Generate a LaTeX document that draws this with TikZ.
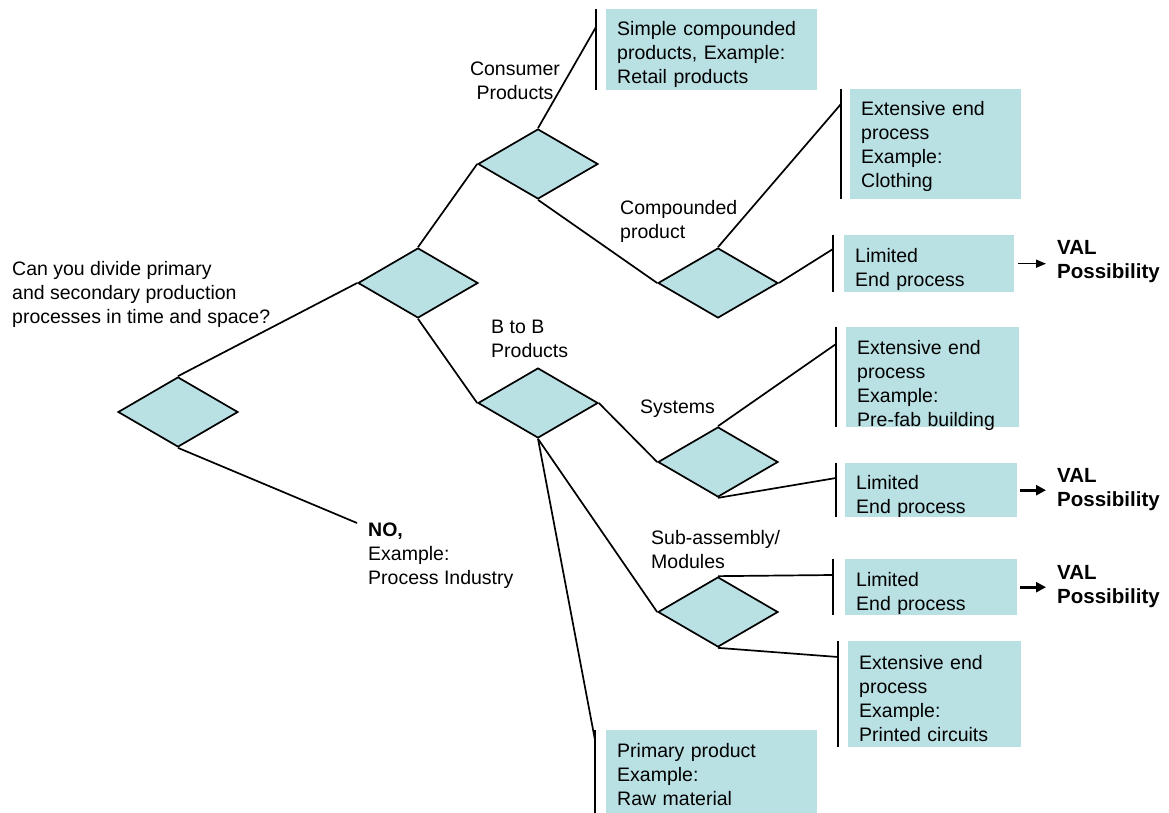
\documentclass[tikz,border=0pt]{standalone}
\usepackage{fontspec}
\setmainfont{Liberation Sans}
\usetikzlibrary{shapes.geometric,arrows.meta,calc}
\definecolor{boxfill}{RGB}{185,224,227}

\begin{document}
\begin{tikzpicture}[x=1pt,y=-1pt,
  every node/.style={font=\fontsize{19.5}{24}\selectfont},
  decision/.style={diamond, draw=black, line width=1.7pt, fill=boxfill,
    minimum width=120pt, minimum height=70pt, inner sep=0pt},
  infobox/.style={fill=boxfill, anchor=north west, inner xsep=11pt,
    inner ysep=0pt, align=left},
  % lowers the text block inside a box: first line height, remaining depth
  txt/.style 2 args={text height=#1pt, text depth=#2pt},
  lbl/.style={anchor=north west, inner sep=0pt, align=left},
  valtext/.style={anchor=west, inner sep=0pt, align=left,
    font=\fontsize{20.5}{24}\selectfont\bfseries},
  conn/.style={line width=1.7pt},
  sidebar/.style={line width=2pt},
  thinarrow/.style={line width=1.4pt, -{Triangle[length=10pt,width=8pt]}},
  thickarrow/.style={line width=3pt, -{Triangle[length=10pt,width=10pt]}},
]
\useasboundingbox (0,0) rectangle (1169,813);

% decision diamonds
\node[decision] (d0) at (178,412) {};
\node[decision] (d1) at (418,283) {};
\node[decision] (d2) at (538,164) {};
\node[decision] (d3) at (538,403) {};
\node[decision] (d4) at (718,283) {};
\node[decision] (d5) at (718,462) {};
\node[decision] (d6) at (718,612) {};

% outcome boxes
\node[infobox, txt={19.2}{47}, text width=189pt, minimum height=81pt]  (b1) at (606,9)   {Simple compounded\\products, Example:\\Retail products};
\node[infobox, txt={16.2}{74}, text width=149pt, minimum height=110pt] (b2) at (850,89)  {Extensive end\\process\\Example:\\Clothing};
\node[infobox, txt={20.2}{22}, text width=148pt, minimum height=57pt]  (b3) at (844,235) {Limited\\End process};
\node[infobox, txt={22.2}{68}, text width=151pt, minimum height=100pt] (b4) at (846,327) {Extensive end\\process\\Example:\\Pre-fab building};
\node[infobox, txt={20.2}{22}, text width=150pt, minimum height=54pt]  (b5) at (845,463) {Limited\\End process};
\node[infobox, txt={20.2}{22}, text width=150pt, minimum height=56pt]  (b6) at (845,559) {Limited\\End process};
\node[infobox, txt={18.2}{68}, text width=151pt, minimum height=106pt] (b7) at (848,641) {Extensive end\\process\\Example:\\Printed circuits};
\node[infobox, txt={17.2}{45}, text width=189pt, minimum height=83pt]  (b8) at (606,730) {Primary product\\Example:\\Raw material};

% branch labels
\node[lbl] (q)    at (12,261)  {Can you divide primary\\and secondary production\\processes in time and space?};
\node[lbl] (no)   at (368,523) {\textbf{NO,}\\Example:\\Process Industry};
\node[anchor=north, inner sep=0pt, align=center] (cons) at (515,62) {Consumer\\Products};
\node[lbl] (comp) at (620,200) {Compounded\\product};
\node[lbl] (btob) at (491,320) {B to B\\Products};
\node[lbl] (sys)  at (640,400) {Systems};
\node[lbl] (sub)  at (651,530) {Sub-assembly/\\Modules};

% VAL outcomes
\node[valtext] (v1) at (1057,262) {VAL\\Possibility};
\node[valtext] (v2) at (1057,490) {VAL\\Possibility};
\node[valtext] (v3) at (1057,587) {VAL\\Possibility};

% vertical bars in front of the boxes
\foreach \b/\s in {b1/10,b2/9,b3/11,b4/10,b5/9,b6/12,b7/10,b8/11}
  \draw[sidebar] ([xshift=-\s pt]\b.north west) -- ([xshift=-\s pt]\b.south west);

% tree connectors
\draw[conn] (d0.north) -- (d1.west);
\draw[conn] (d0.south) -- ([xshift=-11pt]no.north west);
\draw[conn] (d1.north) -- (d2.west);
\draw[conn] (d1.south) -- (d3.west);
\draw[conn] (d2.north) -- ($(b1.north west)+(-10,18)$);
\draw[conn] (d2.south) -- (d4.west);
\draw[conn] (d4.north) -- ($(b2.north west)+(-9,15)$);
\draw[conn] (d4.east)  -- ($(b3.north west)+(-11,14)$);
\draw[conn] (d3.east)  -- (d5.west);
\draw[conn] (d3.south) -- (d6.west);
\draw[conn] (d3.south) -- ($(b8.north west)+(-11,10)$);
\draw[conn] (d5.north) -- ($(b4.north west)+(-10,17)$);
\draw[conn] (d5.south) -- ($(b5.north west)+(-9,15)$);
\draw[conn] (d6.north) -- ($(b6.north west)+(-12,16)$);
\draw[conn] (d6.south) -- ($(b7.north west)+(-10,16)$);

% arrows to VAL
\draw[thinarrow]  ([xshift=4pt]b3.east) -- ([xshift=-11pt]b3.east -| v1.west);
\draw[thickarrow] ([xshift=3pt]b5.east) -- ([xshift=-11pt]b5.east -| v2.west);
\draw[thickarrow] ([xshift=3pt]b6.east) -- ([xshift=-11pt]b6.east -| v3.west);
\end{tikzpicture}
\end{document}
